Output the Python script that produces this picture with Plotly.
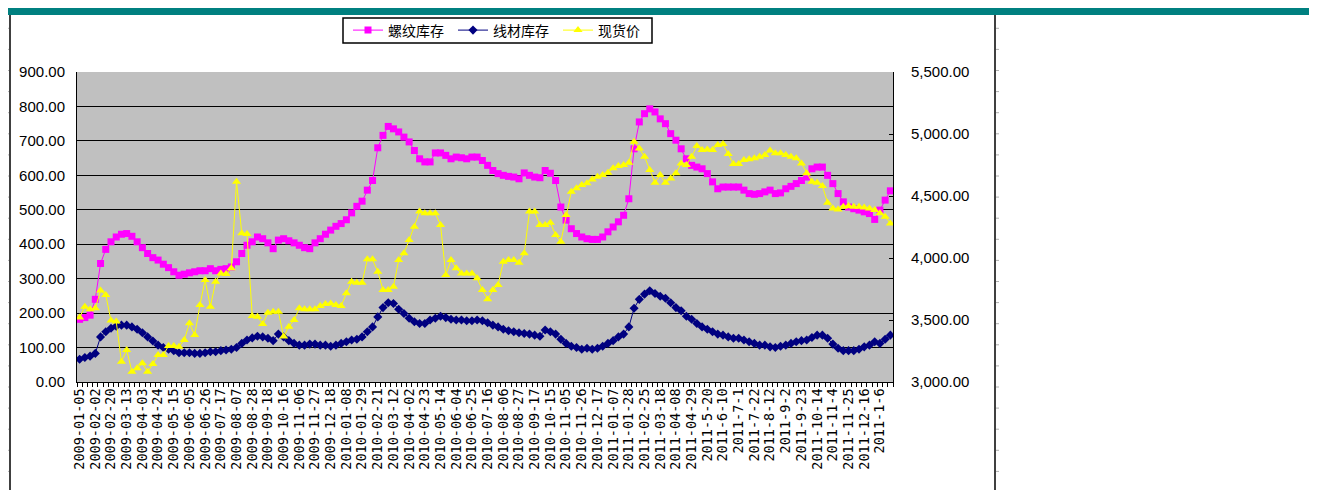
import plotly.graph_objects as go

tick_labels = [
    "2009-01-05", "2009-02-02", "2009-02-20", "2009-03-13", "2009-04-03", "2009-04-24",
    "2009-05-15", "2009-06-05", "2009-06-26", "2009-07-17", "2009-08-07", "2009-08-28",
    "2009-09-18", "2009-10-16", "2009-11-06", "2009-11-27", "2009-12-18",
    "2010-01-08", "2010-01-29", "2010-02-21", "2010-03-12", "2010-04-02", "2010-04-23",
    "2010-05-14", "2010-06-04", "2010-06-25", "2010-07-16", "2010-08-06", "2010-08-27",
    "2010-09-17", "2010-10-15", "2010-11-05", "2010-11-26", "2010-12-17",
    "2011-01-07", "2011-01-28", "2011-02-25", "2011-03-18", "2011-04-08", "2011-04-29",
    "2011-5-20", "2011-6-10", "2011-7-1", "2011-7-22", "2011-8-12", "2011-9-2",
    "2011-9-23", "2011-10-14", "2011-11-4", "2011-11-25", "2011-12-16", "2011-1-6",
]

rebar_stock = [
    182, 187, 194, 240, 344, 385, 407, 421, 429, 431, 423, 407, 390, 373, 361, 354,
    342, 332, 320, 310, 313, 317, 320, 323, 323, 329, 323, 327, 329, 334, 349, 373,
    397, 407, 421, 416, 404, 387, 412, 416, 410, 404, 397, 390, 387, 404, 416, 429,
    441, 452, 460, 471, 491, 510, 525, 557, 585, 680, 716, 742, 735, 726, 711, 697,
    672, 648, 639, 639, 665, 665, 658, 648, 653, 651, 648, 653, 653, 643, 629, 614,
    605, 600, 597, 595, 590, 607, 600, 595, 593, 614, 606, 585, 508, 470, 445, 431,
    421, 416, 414, 414, 421, 436, 450, 465, 484, 532, 677, 755, 779, 793, 784, 764,
    750, 721, 702, 677, 648, 629, 624, 619, 605, 581, 561, 566, 566, 566, 566, 557,
    547, 545, 547, 552, 557, 547, 549, 561, 568, 576, 585, 595, 619, 624, 624, 600,
    576, 547, 523, 508, 503, 499, 494, 489, 472, 499, 528, 555,
]

wire_stock = [
    66, 71, 75, 83, 131, 146, 156, 162, 165, 165, 160, 153, 143, 131, 119, 107,
    100, 95, 91, 85, 85, 85, 83, 83, 85, 88, 88, 91, 93, 95, 100, 112,
    122, 128, 133, 131, 127, 120, 139, 131, 120, 112, 107, 107, 110, 110, 107, 107,
    104, 107, 112, 117, 122, 124, 131, 146, 160, 189, 216, 230, 228, 211, 199, 185,
    175, 170, 170, 180, 185, 191, 187, 182, 180, 180, 178, 178, 180, 178, 172, 165,
    160, 153, 149, 146, 143, 141, 139, 136, 133, 151, 146, 139, 124, 112, 104, 100,
    95, 98, 95, 98, 104, 112, 120, 131, 139, 160, 214, 240, 255, 265, 257, 249,
    243, 230, 216, 207, 191, 182, 170, 160, 153, 146, 139, 136, 131, 127, 127, 122,
    117, 112, 107, 107, 102, 100, 104, 107, 112, 117, 120, 122, 129, 136, 136, 127,
    110, 98, 91, 91, 91, 95, 102, 107, 117, 112, 124, 136,
]

spot_price = [
    3521, 3607, 3586, 3594, 3737, 3702, 3495, 3487, 3164, 3258, 3083, 3110, 3151, 3083, 3145, 3218,
    3218, 3290, 3290, 3285, 3339, 3473, 3379, 3621, 3822, 3607, 3809, 3876, 3871, 3917, 4615, 4199,
    4193, 3532, 3527, 3468, 3559, 3567, 3567, 3366, 3446, 3500, 3594, 3586, 3586, 3586, 3613, 3629,
    3634, 3621, 3613, 3715, 3809, 3801, 3801, 3989, 3989, 3890, 3742, 3742, 3769, 3984, 4038, 4145,
    4253, 4374, 4360, 4360, 4360, 4266, 3863, 3984, 3917, 3876, 3876, 3876, 3836, 3742, 3667, 3742,
    3782, 3970, 3984, 3984, 3962, 4038, 4374, 4374, 4266, 4266, 4285, 4185, 4132, 4347, 4535, 4562,
    4589, 4602, 4634, 4656, 4669, 4688, 4723, 4742, 4750, 4769, 4938, 4884, 4817, 4710, 4607, 4669,
    4607, 4642, 4683, 4763, 4750, 4817, 4903, 4871, 4876, 4871, 4911, 4919, 4839, 4758, 4758, 4790,
    4796, 4804, 4817, 4831, 4866, 4844, 4844, 4831, 4817, 4804, 4763, 4683, 4615, 4607, 4581, 4446,
    4400, 4392, 4414, 4419, 4414, 4414, 4408, 4400, 4387, 4360, 4333, 4279,
]

# page offset of the plotly div (body margin)
OFF = 8
W, H = 1317 - OFF, 490 - OFF
PLOT_L, PLOT_T, PLOT_R, PLOT_B = 77, 72, 893, 382  # page pixel box of the plot area
L, T = PLOT_L - OFF, PLOT_T - OFF
PW, PH = PLOT_R - PLOT_L, PLOT_B - PLOT_T
R, B = W - L - PW, H - T - PH


def px_x(v):
    return (v - PLOT_L) / PW


def px_y(v):
    return (PLOT_B - v) / PH


n = len(rebar_stock)
x = list(range(n))

fig = go.Figure()
fig.add_trace(go.Scatter(
    x=x, y=rebar_stock, name="螺纹库存", mode="lines+markers",
    line=dict(color="#FF00FF", width=1),
    marker=dict(symbol="square", size=7, color="#FF00FF"),
))
fig.add_trace(go.Scatter(
    x=x, y=wire_stock, name="线材库存", mode="lines+markers",
    line=dict(color="#000080", width=1),
    marker=dict(symbol="diamond", size=7, color="#000080"),
))
fig.add_trace(go.Scatter(
    x=x, y=spot_price, name="现货价", mode="lines+markers", yaxis="y2",
    line=dict(color="#FFFF00", width=1),
    marker=dict(symbol="triangle-up", size=8, color="#FFFF00"),
))

shapes = [
    dict(type="rect", xref="paper", yref="paper", x0=px_x(0), x1=px_x(1330),
         y0=px_y(15), y1=px_y(8), fillcolor="#008080", line=dict(width=0), layer="above"),
    dict(type="line", xref="paper", yref="paper", x0=px_x(10), x1=px_x(10),
         y0=px_y(15), y1=px_y(495), line=dict(color="black", width=1.5)),
    dict(type="line", xref="paper", yref="paper", x0=px_x(995), x1=px_x(995),
         y0=px_y(15), y1=px_y(495), line=dict(color="black", width=1.5)),
    # legend frame
    dict(type="rect", xref="paper", yref="paper", x0=px_x(343), x1=px_x(652),
         y0=px_y(43), y1=px_y(18), line=dict(color="black", width=1.5),
         fillcolor="rgba(0,0,0,0)"),
]
yy = 28.3
while yy < 490:
    shapes.append(dict(type="line", xref="paper", yref="paper", x0=px_x(6), x1=px_x(9),
                       y0=px_y(yy), y1=px_y(yy), line=dict(color="#B0B0B0", width=1)))
    shapes.append(dict(type="line", xref="paper", yref="paper", x0=px_x(996), x1=px_x(999),
                       y0=px_y(yy), y1=px_y(yy), line=dict(color="#B0B0B0", width=1)))
    yy += 21.1

fig.update_layout(
    width=W, height=H, autosize=False,
    margin=dict(l=L, r=R, t=T, b=B, autoexpand=False),
    paper_bgcolor="white", plot_bgcolor="#C0C0C0",
    font=dict(family="Liberation Sans, Arial, sans-serif", color="black"),
    showlegend=True,
    legend=dict(
        orientation="h", x=px_x(348), y=px_y(30.5), xanchor="left", yanchor="middle",
        borderwidth=0, bgcolor="rgba(0,0,0,0)",
        font=dict(family="Noto Sans CJK SC", size=14, color="black"),
        itemwidth=30, entrywidth=60, entrywidthmode="pixels",
    ),
    xaxis=dict(
        range=[-0.5, n - 0.5], tickmode="array", tickvals=x[::3], ticktext=tick_labels,
        tickangle=-90, showgrid=False, zeroline=False, showline=True,
        linecolor="black", linewidth=1, ticks="", automargin=False,
        tickfont=dict(size=13.5, family="DejaVu Sans Mono"),
        minor=dict(tickmode="array", tickvals=[i - 0.5 for i in x] + [n - 0.5],
                   ticks="outside", ticklen=4, tickcolor="black", showgrid=False),
    ),
    yaxis=dict(
        range=[0, 900], dtick=100, tickformat=".2f", showgrid=True, gridcolor="black",
        gridwidth=1, zeroline=False, showline=True, linecolor="black", linewidth=1,
        ticks="", automargin=False,
        tickfont=dict(size=15, family="Liberation Sans"), ticklabelstandoff=8,
    ),
    yaxis2=dict(
        overlaying="y", side="right", range=[3000, 5500], dtick=500, tickformat=",.2f",
        showgrid=False, zeroline=False, showline=True, linecolor="black", linewidth=1,
        ticks="inside", ticklen=4, tickcolor="black", automargin=False,
        tickfont=dict(size=15, family="Liberation Sans"), ticklabelstandoff=14,
    ),
    shapes=shapes,
)

fig.write_html(
    "out.html",
    post_script="document.documentElement.style.overflow='hidden';",
)
